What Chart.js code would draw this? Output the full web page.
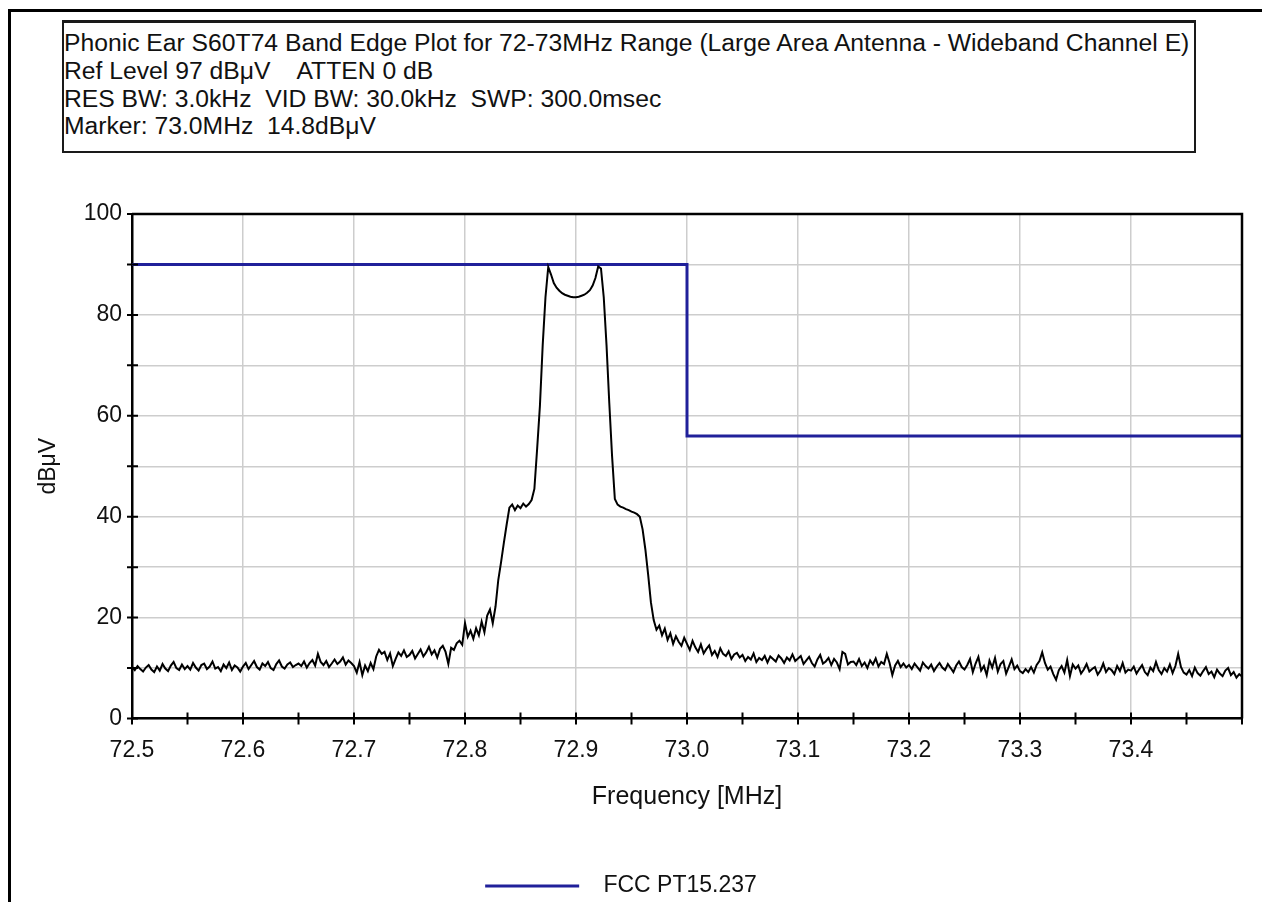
<!DOCTYPE html>
<html>
<head>
<meta charset="utf-8">
<script src="https://cdn.jsdelivr.net/npm/chart.js@4.4.1/dist/chart.umd.min.js"></script>
<style>
html,body{margin:0;padding:0;background:#fff;overflow:hidden;width:1262px;height:902px;}
#c{position:absolute;left:0;top:0;}
#frameTop{position:absolute;left:8px;top:9px;width:1254px;height:3px;background:#000;}
#frameLeft{position:absolute;left:8px;top:9px;width:3px;height:893px;background:#000;}
#hdr{position:absolute;left:62px;top:20px;width:1134px;height:133px;box-sizing:border-box;
  border:2px solid #1a1a1a;border-top:3px solid #1a1a1a;padding:6px 0 0 0;
  font-family:'Liberation Sans',Arial,sans-serif;font-size:24.7px;line-height:27.8px;color:#111;white-space:pre;background:#fff;}
</style>
</head>
<body>
<canvas id="c" width="1262" height="910"></canvas>
<div id="frameTop"></div>
<div id="frameLeft"></div>
<div id="hdr">Phonic Ear S60T74 Band Edge Plot for 72-73MHz Range (Large Area Antenna - Wideband Channel E)
Ref Level 97 dBμV    ATTEN 0 dB
RES BW: 3.0kHz  VID BW: 30.0kHz  SWP: 300.0msec
Marker: 73.0MHz  14.8dBμV</div>
<script>
// ---- Data ----
const FREQ_START = 72.5;   // MHz, first sweep point
const FREQ_STEP = 0.0025;  // MHz between sweep points
const traceLevels = [
  10.2, 9.6, 10.4, 9.8, 9.3, 10.1, 10.6, 9.7, 9.2, 10.3, 9.5, 10.8, 9.9, 9.4, 10.5, 11.2, 10.0, 9.6, 10.7, 9.8,
  10.4, 9.7, 11.0, 10.1, 9.5, 10.6, 10.9, 9.8, 10.3, 11.3, 9.9, 10.2, 9.4, 10.7, 10.0, 11.1, 9.6, 10.5, 10.1, 9.3,
  10.3, 11.0, 9.8, 10.6, 11.4, 10.2, 9.7, 10.9, 10.4, 11.2, 10.0, 9.6, 10.8, 11.5, 10.3, 9.9, 10.7, 11.1, 10.2, 10.6,
  10.9, 10.4, 11.3, 10.1, 11.0, 11.6, 10.5, 12.8, 11.2, 10.6, 11.4, 10.2, 10.9, 11.7, 10.8, 11.3, 12.1, 10.7, 11.5, 11.0,
  10.4, 9.1, 11.2, 8.6, 10.5, 9.4, 11.0, 9.8, 12.3, 13.6, 12.8, 13.2, 11.6, 12.9, 10.4, 11.8, 13.1, 12.4, 13.5, 12.2,
  12.6, 13.4, 11.9, 12.8, 13.7, 12.3, 13.1, 14.2, 12.7, 13.5, 12.1, 13.8, 14.4, 13.2, 10.8, 14.0, 13.6, 14.9, 15.4, 14.6,
  18.9, 16.2, 17.4, 15.8, 17.9, 16.5, 19.2, 17.1, 20.4, 21.6, 18.9, 22.2, 27.5, 31.0, 34.8, 38.4, 41.8, 42.4, 41.3, 42.2,
  41.7, 42.6, 42.0, 42.5, 43.3, 45.5, 53.5, 62.0, 74.0, 83.5, 89.5, 88.0, 86.3, 85.4, 84.8, 84.3, 84.0, 83.8, 83.6, 83.5,
  83.5, 83.6, 83.8, 84.0, 84.4, 84.9, 85.8, 87.3, 89.6, 89.2, 83.5, 74.0, 62.5, 52.0, 43.5, 42.4, 42.0, 41.8, 41.5, 41.3,
  41.0, 40.8, 40.5, 40.0, 37.5, 33.5, 28.5, 23.0, 19.5, 17.6, 18.4, 16.5, 17.8, 15.6, 16.9, 14.8, 16.3, 15.2, 14.4, 16.0,
  14.8, 13.6, 15.4, 14.1, 13.2, 14.7, 12.9, 13.8, 14.5, 12.6, 13.4, 12.2, 13.9, 12.8, 12.4, 13.3, 11.8, 12.7, 13.0, 12.1,
  12.6, 11.4, 12.2, 11.7, 12.9, 11.2, 12.0, 11.6, 12.4, 11.1, 12.3, 11.8, 11.3, 12.5, 11.9, 11.0, 12.1, 11.5, 12.7, 11.4,
  11.9, 12.4, 10.8, 11.5, 12.2, 11.0, 10.3, 11.7, 12.6, 10.9, 11.3, 12.0, 10.6, 11.8, 11.1, 9.8, 13.2, 12.8, 10.7, 11.2,
  11.3, 10.6, 11.8, 10.4, 11.1, 10.0, 11.5, 10.7, 11.9, 10.3, 11.2, 10.8, 12.8, 11.0, 8.6, 10.5, 11.4, 10.2, 10.9, 10.1,
  10.6, 9.8, 10.9, 10.2, 9.5, 11.1, 10.4, 9.9, 10.7, 9.4, 10.3, 11.0, 10.1, 9.6, 10.8, 10.0, 9.2, 10.5, 11.3, 10.2,
  9.7, 10.6, 11.8, 9.2, 10.9, 12.2, 9.5, 10.4, 8.6, 11.5, 10.1, 12.0, 9.3, 10.8, 11.4, 8.9, 10.3, 11.7, 9.8, 10.5,
  9.4, 9.0, 9.8, 9.2, 10.2, 9.1, 10.6, 11.4, 13.1, 11.0, 9.7, 10.3, 8.8, 7.7, 9.6, 10.4, 9.1, 11.6, 8.4, 10.7,
  9.9, 10.5, 8.9, 9.7, 10.8, 9.3, 9.8, 10.2, 8.7, 9.5, 10.9, 9.2, 10.0, 9.6, 8.8, 10.4, 9.4, 11.0, 9.1, 9.7,
  9.5, 10.3, 8.9, 9.8, 10.6, 9.2, 8.6, 10.1, 9.4, 11.2, 9.6, 8.8, 10.0, 9.3, 10.7, 9.0, 10.4, 12.8, 10.2, 9.1,
  8.7, 9.6, 8.4, 10.1, 9.0, 8.5, 9.4, 10.2, 8.8, 9.3, 8.2, 9.7, 8.9, 8.4, 9.5, 10.0, 8.6, 9.2, 8.1, 8.8, 8.3
];
const limitFreq = [72.5, 73.0, 73.0, 73.5];
const limitLevel = [90, 90, 56, 56];
const limitLabel = 'FCC PT15.237';
const xTitle = 'Frequency [MHz]';
const yTitle = 'dBμV';

// ---- Build datasets ----
const traceData = traceLevels.map((v, i) => ({ x: FREQ_START + i * FREQ_STEP, y: v }));
const limitData = limitFreq.map((f, i) => ({ x: f, y: limitLevel[i] }));

Chart.defaults.font.family = "'Liberation Sans', Arial, sans-serif";
Chart.defaults.color = '#111';

const frameTicks = {
  id: 'frameTicks',
  afterDraw(chart) {
    const { ctx, chartArea: a, scales: { x, y } } = chart;
    ctx.save();
    ctx.strokeStyle = '#000';
    ctx.lineWidth = 2.5;
    ctx.beginPath();
    ctx.moveTo(a.left, a.top);
    ctx.lineTo(a.right, a.top);
    ctx.lineTo(a.right, a.bottom);
    ctx.stroke();
    ctx.lineWidth = 2;
    ctx.beginPath();
    x.ticks.forEach(t => {
      const px = x.getPixelForValue(t.value);
      ctx.moveTo(px, a.bottom - 6); ctx.lineTo(px, a.bottom + 6);
    });
    y.ticks.forEach(t => {
      const py = y.getPixelForValue(t.value);
      ctx.moveTo(a.left - 5, py); ctx.lineTo(a.left + 6, py);
    });
    ctx.stroke();
    ctx.restore();
  }
};

new Chart(document.getElementById('c'), {
  type: 'line',
  data: {
    datasets: [
      { label: 'Trace', data: traceData, borderColor: '#000', borderWidth: 2, pointRadius: 0, tension: 0, fill: false },
      { label: limitLabel, data: limitData, borderColor: '#20209a', backgroundColor: '#20209a', borderWidth: 3, pointRadius: 0, tension: 0, fill: false }
    ]
  },
  options: {
    responsive: false,
    animation: false,
    devicePixelRatio: 1,
    layout: { padding: { left: 0, right: 20, top: 214, bottom: 2.5 } },
    plugins: {
      tooltip: { enabled: false },
      legend: {
        position: 'bottom',
        labels: {
          font: { size: 23 },
          color: '#111',
          padding: 2,
          usePointStyle: true,
          pointStyle: 'line',
          pointStyleWidth: 94,
          filter: item => item.datasetIndex === 1,
          generateLabels: chart => Chart.defaults.plugins.legend.labels.generateLabels(chart).map(it => Object.assign(it, { text: '  ' + it.text }))
        }
      }
    },
    scales: {
      x: {
        type: 'linear',
        min: 72.5, max: 73.5,
        afterFit: s => { s.height = 154; },
        ticks: {
          stepSize: 0.05, autoSkip: false, maxRotation: 0, padding: 18,
          font: { size: 23 }, color: '#111',
          callback: v => { const k = Math.round(v * 20); if (k % 2 !== 0 || k === 1470) return ''; return (k / 20).toFixed(1); }
        },
        grid: {
          drawTicks: false, lineWidth: 1.5,
          color: c => (c.tick && Math.round(c.tick.value * 20) % 2 === 0) ? '#cdcdcd' : 'rgba(0,0,0,0)'
        },
        border: { color: '#000', width: 2.5 },
        title: { display: true, text: xTitle, font: { size: 25 }, color: '#111', padding: { top: 0, bottom: 60.5 } }
      },
      y: {
        min: 0, max: 100,
        afterFit: s => { s.width = 132; },
        ticks: {
          stepSize: 10, padding: 10, font: { size: 23 }, color: '#111',
          callback: v => (v % 20 === 0 ? String(v) : '')
        },
        grid: { drawTicks: false, lineWidth: 1.5, color: '#cdcdcd' },
        border: { color: '#000', width: 2.5 },
        title: { display: true, text: yTitle, font: { size: 23 }, color: '#111', padding: { top: 35, bottom: 0 } }
      }
    }
  },
  plugins: [frameTicks]
});
</script>
</body>
</html>
